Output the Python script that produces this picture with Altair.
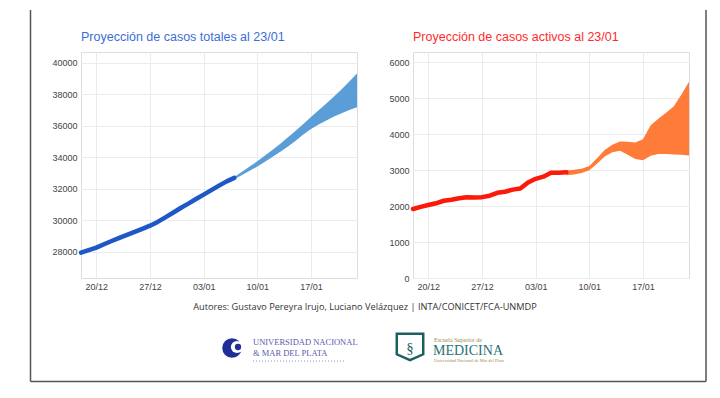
import altair as alt
import pandas as pd

# ---------------- data ----------------
obs_dates = pd.date_range("2020-12-18", "2021-01-07", freq="D").strftime("%Y-%m-%dT00:00:00").tolist()
proj_dates = pd.date_range("2021-01-07", "2021-01-23", freq="D").strftime("%Y-%m-%dT00:00:00").tolist()

total_obs = [27950, 28110, 28270, 28480, 28690, 28890, 29080, 29270, 29460, 29660,
             29900, 30190, 30480, 30780, 31060, 31350, 31630, 31920, 32200, 32470, 32690]
total_lo = [32600, 32880, 33140, 33410, 33720, 34030, 34350, 34690, 35050, 35440,
            35800, 36080, 36340, 36580, 36800, 37000, 37180]
total_hi = [32750, 33080, 33410, 33750, 34110, 34480, 34860, 35270, 35690, 36110,
            36550, 36980, 37410, 37850, 38320, 38810, 39320]

active_obs = [1920, 1980, 2030, 2080, 2150, 2180, 2220, 2250, 2240, 2250,
              2290, 2370, 2400, 2460, 2490, 2660, 2760, 2820, 2930, 2930, 2940]
active_lo = [2860, 2880, 2920, 3000, 3180, 3380, 3500, 3540, 3430, 3310,
             3280, 3400, 3450, 3450, 3440, 3430, 3410]
active_hi = [2990, 3010, 3040, 3120, 3330, 3560, 3710, 3800, 3790, 3770,
             3860, 4250, 4430, 4600, 4770, 5100, 5460]

tick_dates = ["2020-12-20", "2020-12-27", "2021-01-03", "2021-01-10", "2021-01-17"]
total_ticks = [28000, 30000, 32000, 34000, 36000, 38000, 40000]
active_ticks = [0, 1000, 2000, 3000, 4000, 5000, 6000]

title_total = "Proyección de casos totales al 23/01"
title_active = "Proyección de casos activos al 23/01"
authors = "Autores: Gustavo Pereyra Irujo, Luciano Velázquez | INTA/CONICET/FCA-UNMDP"

FONT = "Liberation Sans"
W, H = 276, 226


def dt(s):
    y, m, d = [int(v) for v in s.split("-")]
    return alt.DateTime(year=y, month=m, date=d)


one = pd.DataFrame({"k": [0]})
base = alt.Chart(one)


def panel(obs, lo, hi, ydom, yticks, line_col, band_col, title, title_col):
    obs_df = pd.DataFrame({"date": obs_dates, "v": obs})
    proj_df = pd.DataFrame({"date": proj_dates, "lo": lo, "hi": hi})
    xenc = alt.X(
        "date:T",
        scale=alt.Scale(domain=[dt("2020-12-18"), dt("2021-01-23")]),
        axis=alt.Axis(values=[dt(s) for s in tick_dates], format="%d/%m", title=None,
                      labelFont=FONT, labelFontSize=9, labelColor="#444",
                      labelPadding=4, ticks=False, domain=False,
                      gridColor="#ebebeb", gridWidth=1),
    )
    yscale = alt.Scale(domain=ydom, nice=False, zero=False)
    yaxis = alt.Axis(values=yticks, format="d", title=None, labelFont=FONT, labelFontSize=9,
                     labelColor="#444", labelPadding=4, ticks=False, domain=False,
                     gridColor="#ebebeb", gridWidth=1)
    band = alt.Chart(proj_df).mark_area(color=band_col, opacity=1).encode(
        x=xenc, y=alt.Y("lo:Q", scale=yscale, axis=yaxis), y2="hi:Q")
    line = alt.Chart(obs_df).mark_line(color=line_col, strokeWidth=4.5,
                                       strokeCap="round", strokeJoin="round").encode(
        x=xenc, y=alt.Y("v:Q", scale=yscale, axis=yaxis))
    ttl = base.mark_text(font=FONT, fontSize=12.5, color=title_col, align="left",
                         baseline="alphabetic").encode(
        x=alt.value(0), y=alt.value(-11), text=alt.value(title))
    return band, line, ttl


band_l, line_l, t_l = panel(total_obs, total_lo, total_hi, [26340, 40680], total_ticks,
                            "#1d58c6", "#5b9dd7", title_total, "#3b6fd6")
band_r, line_r, t_r = panel(active_obs, active_lo, active_hi, [0, 6290], active_ticks,
                            "#fb1a0a", "#ff7b39", title_active, "#ff2b2b")

# footer, logos and frame (positioned relative to the left panel's plot area)
frame_col = "#555555"
frame = [
    base.mark_rule(color=frame_col, strokeWidth=1.5).encode(
        x=alt.value(-50.5), y=alt.value(-42), y2=alt.value(329.5)),
    base.mark_rule(color=frame_col, strokeWidth=1.5).encode(
        x=alt.value(625), y=alt.value(-42), y2=alt.value(329.5)),
    base.mark_rule(color=frame_col, strokeWidth=1.5).encode(
        x=alt.value(-50.5), x2=alt.value(625), y=alt.value(329.5)),
]
footer = base.mark_text(font="Open Sans", fontSize=9.2, color="#333", align="center",
                        baseline="middle").encode(
    x=alt.value(284), y=alt.value(255), text=alt.value(authors))

unmdp = [
    base.mark_point(filled=True, shape="circle", size=380, color="#1f2f96", opacity=1).encode(
        x=alt.value(151), y=alt.value(296)),
    base.mark_point(filled=True, shape="circle", size=150, color="white", opacity=1).encode(
        x=alt.value(156), y=alt.value(295)),
    base.mark_point(filled=True, shape="circle", size=40, color="#1f2f96", opacity=1).encode(
        x=alt.value(157), y=alt.value(295)),
    base.mark_text(font="Liberation Serif", fontSize=8.5, color="#5a5aae", align="left",
                   baseline="middle").encode(
        x=alt.value(172), y=alt.value(290), text=alt.value("UNIVERSIDAD NACIONAL")),
    base.mark_text(font="Liberation Serif", fontSize=8.5, color="#5a5aae", align="left",
                   baseline="middle").encode(
        x=alt.value(172), y=alt.value(301), text=alt.value("&  MAR DEL PLATA")),
    base.mark_rule(color="#8a8ac8", strokeWidth=1, strokeDash=[1, 2]).encode(
        x=alt.value(172), x2=alt.value(265), y=alt.value(309)),
]
shield_path = "M-1,-1 L1,-1 L1,0.55 L0,1 L-1,0.55 Z"
medicina = [
    base.mark_point(shape=shield_path, size=700, color="#1d5f5f", strokeWidth=2.5,
                    filled=False, opacity=1).encode(x=alt.value(329), y=alt.value(295)),
    base.mark_text(font="Liberation Serif", fontSize=15, color="#1d5f5f",
                   align="center", baseline="middle").encode(
        x=alt.value(329), y=alt.value(296), text=alt.value("§")),
    base.mark_text(font="Liberation Serif", fontSize=6, color="#a08a4a", align="left",
                   baseline="middle").encode(
        x=alt.value(353), y=alt.value(288), text=alt.value("Escuela Superior de")),
    base.mark_text(font="Liberation Serif", fontSize=14, color="#2a7272", align="left",
                   baseline="middle").encode(
        x=alt.value(352), y=alt.value(299), text=alt.value("MEDICINA")),
    base.mark_text(font="Liberation Serif", fontSize=4.5, color="#a08a4a", align="left",
                   baseline="middle").encode(
        x=alt.value(353), y=alt.value(309),
        text=alt.value("Universidad Nacional de Mar del Plata")),
]

left = alt.layer(band_l, line_l, t_l, *frame, footer, *unmdp, *medicina).properties(
    width=W, height=H)
right = alt.layer(band_r, line_r, t_r).properties(width=W, height=H)

chart = alt.hconcat(left, right, spacing=56, bounds="flush").properties(
    padding={"left": 21, "top": 0, "right": 0, "bottom": 0}
).configure_view(stroke="#dcdcdc", strokeWidth=1.5).configure(background="white")

chart.save("out.html", embed_options={"renderer": "svg", "actions": False})
